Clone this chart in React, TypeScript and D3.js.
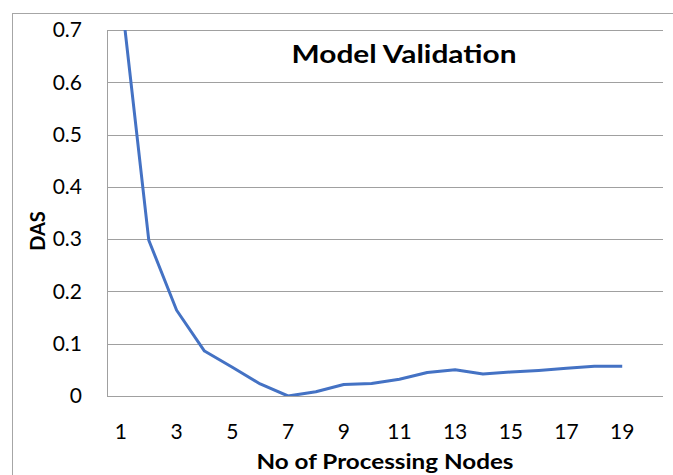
import React from "react";
import * as d3 from "d3";

const categories: number[] = Array.from({ length: 20 }, (_, i) => i + 1);
const nodes: number[] = [1, 2, 3, 4, 5, 6, 7, 8, 9, 10, 11, 12, 13, 14, 15, 16, 17, 18, 19];
const das: number[] = [0.77, 0.298, 0.164, 0.086, 0.055, 0.023, 0.0, 0.008, 0.022, 0.024, 0.032, 0.045, 0.05, 0.042, 0.046, 0.049, 0.053, 0.057, 0.057];
const yTicks: number[] = [0, 0.1, 0.2, 0.3, 0.4, 0.5, 0.6, 0.7];
const xTickLabels: number[] = [1, 3, 5, 7, 9, 11, 13, 15, 17, 19];

const W = 673, H = 475;
const plot = { left: 107, right: 664, top: 30, bottom: 396 };
const FONT = "Lato, 'Open Sans', sans-serif";

export default function App() {
  const x = d3.scaleBand<number>().domain(categories).range([plot.left, plot.right]);
  const y = d3.scaleLinear().domain([0, 0.7]).range([plot.bottom, plot.top]);
  const cx = (c: number) => (x(c) as number) + x.bandwidth() / 2;
  const line = d3.line<number>().x((_, i) => cx(nodes[i])).y((d) => y(d));
  const fmt = (v: number) => (v === 0 ? "0" : d3.format(".1f")(v));

  return (
    <svg width={W} height={H} style={{ position: "absolute", left: 0, top: 0, background: "#fff" }}>
      <defs>
        <clipPath id="plotclip">
          <rect x={plot.left} y={plot.top} width={plot.right - plot.left} height={plot.bottom - plot.top} />
        </clipPath>
      </defs>
      <rect x={12.5} y={13.5} width={W + 20} height={H + 20} fill="#fff" stroke="#a6a6a6" strokeWidth={1} />
      {yTicks.map((t) => (
        <line key={t} x1={plot.left} x2={plot.right - 1} y1={Math.round(y(t)) + 0.5} y2={Math.round(y(t)) + 0.5} stroke="#a0a0a0" strokeWidth={1} />
      ))}
      <line x1={plot.left + 0.5} x2={plot.left + 0.5} y1={plot.top} y2={plot.bottom + 1} stroke="#a0a0a0" strokeWidth={1} />
      {yTicks.map((t) => (
        <text key={t} x={82} y={y(t)} dy="0.35em" textAnchor="end" fontFamily={FONT} fontSize={21} fill="#000">{fmt(t)}</text>
      ))}
      {xTickLabels.map((t) => (
        <text key={t} x={cx(t)} y={432} dy="0.35em" textAnchor="middle" fontFamily={FONT} fontSize={21} fill="#000">{t}</text>
      ))}
      <path d={line(das) ?? ""} fill="none" stroke="#4472C4" strokeWidth={3} strokeLinejoin="round" clipPath="url(#plotclip)" />
      <text x={404} y={55} dy="0.35em" textAnchor="middle" fontFamily={FONT} fontWeight={700} fontSize={24} textLength={225} lengthAdjust="spacingAndGlyphs" fill="#000">Model Validation</text>
      <text x={385} y={462} dy="0.35em" textAnchor="middle" fontFamily={FONT} fontWeight={700} fontSize={20} textLength={257} lengthAdjust="spacingAndGlyphs" fill="#000">No of Processing Nodes</text>
      <text transform="translate(38,231) rotate(-90)" dy="0.35em" textAnchor="middle" fontFamily={FONT} fontWeight={700} fontSize={20} fill="#000">DAS</text>
    </svg>
  );
}
